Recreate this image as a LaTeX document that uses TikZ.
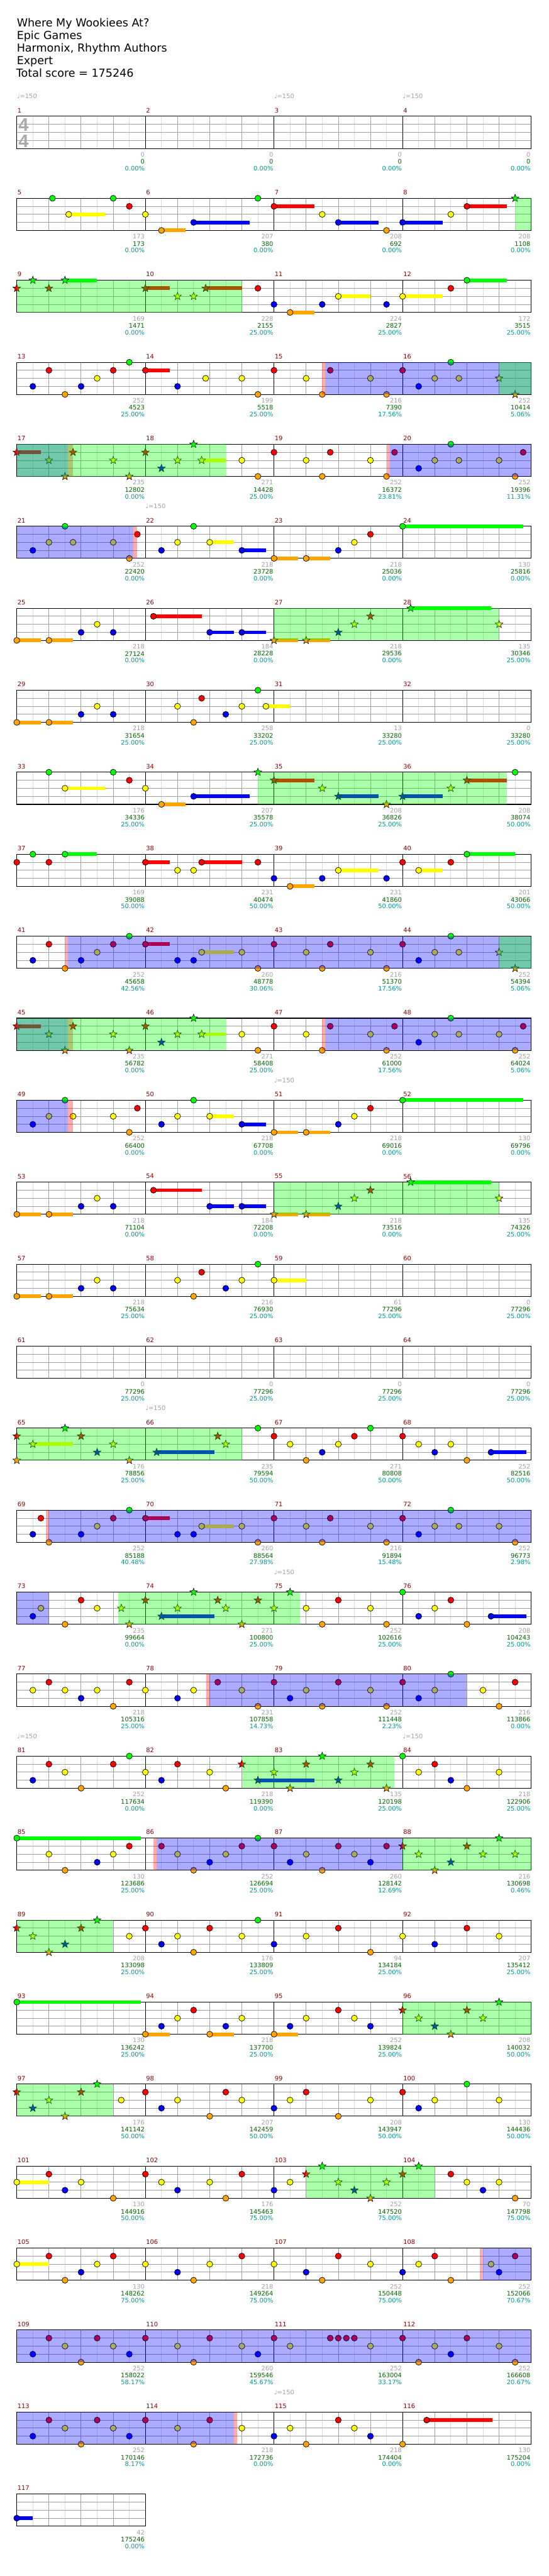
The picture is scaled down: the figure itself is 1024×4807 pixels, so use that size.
\documentclass[tikz,border=0pt]{standalone}
\usepackage{fontspec}
\setmainfont{DejaVu Sans}
\newfontfamily\sigfont{Liberation Sans}
\usetikzlibrary{shapes.geometric}

\definecolor{lane0}{RGB}{0,255,0}
\definecolor{lane1}{RGB}{255,0,0}
\definecolor{lane2}{RGB}{255,255,0}
\definecolor{lane3}{RGB}{0,0,255}
\definecolor{lane4}{RGB}{255,165,0}
\definecolor{gridmid}{RGB}{160,160,160}
\definecolor{gridlight}{RGB}{220,220,220}
\definecolor{barred}{RGB}{139,0,0}
\definecolor{ptsgray}{RGB}{160,160,160}
\definecolor{ptsgreen}{RGB}{0,100,0}
\definecolor{ptsteal}{RGB}{0,150,150}
\definecolor{siggray}{RGB}{170,170,170}

\newcommand\smallnum{\fontsize{5.8}{6}\selectfont}

% one staff row: #1 row index, #2 number of measures
\newcommand\drawstaff[2]{%
  \begin{scope}[row=#1]
    \pgfmathtruncatemacro\xend{8*#2}
    \foreach \pos in {1,3,...,\xend} \draw[eighth] (\pos,0) -- (\pos,4);
    \foreach \pos in {2,4,...,\xend} \draw[beat] (\pos,0) -- (\pos,4);
    \foreach \lane in {1,2,3} \draw[beat] (0,\lane) -- (\xend,\lane);
    \ifnum#2>1 \foreach \pos in {8,16,24} \draw[bar] (\pos,0) -- (\pos,4); \fi
    \draw[bar] (0,0) rectangle (\xend,4);
    \foreach \k in {1,...,#2} {
      \pgfmathtruncatemacro\mnum{4*#1+\k}
      \node[barno] (bar\mnum) at ({8*(\k-1)},-0.73) {\mnum};
    }
  \end{scope}}

% gain / total / percentage under each bar line
\newcommand\scores[2]{%
  \begin{scope}[row=#1]
    \foreach \gain/\total/\pct [count=\k] in {#2} {
      \pgfmathtruncatemacro\mnum{4*#1+\k}
      \node[ptsgain] (gain\mnum) at (8*\k,4.76) {\gain};
      \node[ptstotal] (total\mnum) at (8*\k,5.65) {\total};
      \node[ptspct] (pct\mnum) at (8*\k,6.5) {\pct\%};
    }
  \end{scope}}

\newcommand\gems[1]{\foreach \pos/\lane [count=\i] in {#1}
  \node[gem, fill=lane\lane] (\rowtag g\i) at (\pos,\lane) {};}
\newcommand\stars[1]{\foreach \pos/\lane [count=\i] in {#1}
  \node[odstar, fill=lane\lane] (\rowtag s\i) at (\pos,\lane) {};}
\newcommand\tails[1]{\foreach \from/\to/\lane in {#1}
  \fill[lane\lane] (\from,\lane-0.23) rectangle (\to,\lane+0.23);}
\newcommand\odrive[2]{\fill[odfill] (#1,0) rectangle (#2,4);}
\newcommand\solo[2]{\fill[solofill] (#1,0) rectangle (#2,4);}
\newcommand\solomark[2]{\fill[markfill] (#1,0) rectangle (#2,4);}
\newcommand\tempo[2]{\node[tempomark] (bpm#1) at (#2,-2.47) {♩=150};}

\begin{document}
\begin{tikzpicture}[x=0.5pt, y=-0.5pt,
  row/.style={shift={(31.3,{217+153*#1})}, xscale=30, yscale=15},
  eighth/.style={draw=gridlight, line width=0.5pt},
  beat/.style={draw=gridmid, line width=0.5pt},
  bar/.style={draw=black, line width=0.6pt},
  gem/.style={circle, draw=black, line width=0.4pt, inner sep=0pt, minimum size=5.6pt},
  odstar/.style={star, star points=5, star point ratio=2.4, draw=black, line width=0.35pt,
                 inner sep=0pt, minimum size=7.5pt},
  odfill/.style={fill=lane0, fill opacity=0.33},
  solofill/.style={fill=lane3, fill opacity=0.33},
  markfill/.style={fill=lane1, fill opacity=0.33},
  barno/.style={anchor=west, text=barred, font=\smallnum, inner sep=0.5pt},
  ptsgain/.style={anchor=east, text=ptsgray, font=\smallnum, inner sep=0.5pt},
  ptstotal/.style={anchor=east, text=ptsgreen, font=\smallnum, inner sep=0.5pt},
  ptspct/.style={anchor=east, text=ptsteal, font=\smallnum, inner sep=0.5pt},
  tempomark/.style={anchor=west, text=ptsgray, font=\smallnum, inner sep=0pt},
  titletext/.style={anchor=base west, inner sep=0pt, font=\fontsize{10.3}{12}\selectfont}
]
\useasboundingbox (0,0) rectangle (1024,4807);

% header
\node[titletext] (song)   at (31,50)    {Where My Wookiees At?};
\node[titletext] (artist) at (31,73.3)  {Epic Games};
\node[titletext] (author) at (31,96.7)  {Harmonix, Rhythm Authors};
\node[titletext] (level)  at (31,120)   {Expert};
\node[titletext] (total)  at (30,143.3) {Total score = 175246};

% staves
\foreach \r in {0,...,28} {\drawstaff{\r}{4}}
\drawstaff{29}{1}

% measures 1-4
\begin{scope}[row=0]
  \node[text=siggray, font=\sigfont\bfseries\fontsize{17}{17}\selectfont, inner sep=0pt] (sigtop) at (0.42,1.07) {4};
  \node[text=siggray, font=\sigfont\bfseries\fontsize{17}{17}\selectfont, inner sep=0pt] (sigbot) at (0.42,3.07) {4};
  \tempo{a}{0} \tempo{b}{16} \tempo{c}{24}
\end{scope}
\scores{0}{0/0/0.00, 0/0/0.00, 0/0/0.00, 0/0/0.00}

% measures 5-8
\begin{scope}[row=1]\def\rowtag{r1}
  \tails{3.23/5.5/2, 9/10.5/4, 11/14.5/3, 16/18.5/1, 20/22.5/3, 24/26.5/3, 28/30.5/1}
  \gems{2.22/0, 6/0, 7/1, 3.23/2, 8/2, 9/4, 11/3, 15/0, 16/1, 19/2, 20/3, 23/4, 24/3, 27/2, 28/1}
  \stars{31/0}
  \odrive{31}{32}
\end{scope}
\scores{1}{173/173/0.00, 207/380/0.00, 208/692/0.00, 208/1108/0.00}

% measures 9-12
\begin{scope}[row=2]\def\rowtag{r2}
  \tails{3/5/0, 8/9.5/1, 11.75/14/1, 17/18.5/4, 20/22/2, 24/26.5/2, 28/30.5/0}
  \stars{0/1, 1/0, 2/1, 3/0, 8/1, 10/2, 11/2, 11.75/1}
  \gems{15/1, 16/3, 17/4, 19/3, 20/2, 23/3, 24/2, 27/1, 28/0}
  \odrive{0}{14}
\end{scope}
\scores{2}{169/1471/0.00, 228/2155/25.00, 224/2827/25.00, 172/3515/25.00}

% measures 13-16
\begin{scope}[row=3]\def\rowtag{r3}
  \tails{8/9.5/1}
  \gems{1/3, 2/1, 3/4, 4/3, 5/2, 6/1, 7/0, 8/1, 10/3, 11.75/2, 14/2, 15/4, 16/1, 18/2, 19/4,
        19.5/1, 22/2, 23/4, 24/1, 25/3, 26/2, 27/0, 27.5/2}
  \stars{30/2, 31/4}
  \solomark{19}{19.2} \solo{19.2}{32} \odrive{30}{32}
\end{scope}
\scores{3}{252/4523/25.00, 199/5518/25.00, 216/7390/17.56, 252/10414/5.06}

% measures 17-20
\begin{scope}[row=4]\def\rowtag{r4}
  \tails{0/1.5/1, 11.5/13/2}
  \stars{0/1, 2/2, 3/4, 3.5/1, 6/2, 7/4, 8/1, 9/3, 10/2, 11/0, 11.5/2}
  \gems{14/2, 15/4, 16/1, 18/2, 19/4, 19.5/1, 22/2, 23/4, 23.5/1, 25/3, 26/2, 27/0, 27.5/2,
        30/2, 31/4, 31.5/1}
  \solo{0}{3.2} \solomark{3.2}{3.5} \odrive{0}{13}
  \solomark{23}{23.2} \solo{23.2}{32}
\end{scope}
\scores{4}{235/12802/0.00, 271/14428/25.00, 252/16372/23.81, 252/19396/11.31}

% measures 21-24
\begin{scope}[row=5]\def\rowtag{r5}
  \tempo{d}{8}
  \tails{12/13.5/2, 14/15.5/3, 16/17.5/4, 18/19.5/4, 24/31.5/0}
  \gems{1/3, 2/2, 3/0, 3.5/2, 6/2, 7/4, 7.5/1, 9/3, 10/2, 11/0, 12/2, 14/3, 16/4, 18/4,
        20/3, 21/2, 22/1, 24/0}
  \solo{0}{7.25} \solomark{7.25}{7.5}
\end{scope}
\scores{5}{252/22420/0.00, 218/23728/0.00, 218/25036/0.00, 130/25816/0.00}

% measures 25-28
\begin{scope}[row=6]\def\rowtag{r6}
  \tails{0/1.5/4, 2/3.5/4, 8.5/11.5/1, 12/13.5/3, 14/15.5/3, 16/17.5/4, 18/19.5/4, 24.5/29.5/0}
  \gems{0/4, 2/4, 4/3, 5/2, 6/3, 8.5/1, 12/3, 14/3}
  \stars{16/4, 18/4, 20/3, 21/2, 22/1, 24.5/0, 30/2}
  \odrive{16}{30}
\end{scope}
\scores{6}{218/27124/0.00, 184/28228/0.00, 218/29536/0.00, 135/30346/25.00}

% measures 29-32
\begin{scope}[row=7]\def\rowtag{r7}
  \tails{0/1.5/4, 2/3.5/4, 15.5/17/2}
  \gems{0/4, 2/4, 4/3, 5/2, 6/3, 10/2, 11/4, 11.5/1, 13/3, 14/2, 15/0, 15.5/2}
\end{scope}
\scores{7}{218/31654/25.00, 258/33202/25.00, 13/33280/25.00, 0/33280/25.00}

% measures 33-36
\begin{scope}[row=8]\def\rowtag{r8}
  \tails{3/5.5/2, 9/10.5/4, 11/14.5/3, 16/18.5/1, 20/22.5/3, 24/26.5/3, 28/30.5/1}
  \gems{2/0, 3/2, 6/0, 7/1, 8/2, 9/4, 11/3, 31/0}
  \stars{15/0, 16/1, 19/2, 20/3, 23/4, 24/3, 27/2, 28/1}
  \odrive{15}{30.5}
\end{scope}
\scores{8}{176/34336/25.00, 207/35578/25.00, 208/36826/25.00, 208/38074/50.00}

% measures 37-40
\begin{scope}[row=9]\def\rowtag{r9}
  \tails{3/5/0, 8/9.5/1, 11.5/14/1, 17/18.5/4, 20/22.5/2, 25/26.5/2, 28/31/0}
  \gems{0/1, 1/0, 2/1, 3/0, 8/1, 10/2, 11/2, 11.5/1, 15/1, 16/3, 17/4, 19/3, 20/2, 23/3,
        24/1, 25/2, 27/1, 28/0}
\end{scope}
\scores{9}{169/39088/50.00, 231/40474/50.00, 231/41860/50.00, 201/43066/50.00}

% measures 41-44
\begin{scope}[row=10]\def\rowtag{r10}
  \tails{8/9.5/1, 11.5/13.5/2}
  \gems{1/3, 2/1, 3/4, 4/3, 5/2, 6/1, 7/0, 8/1, 10/3, 11/3, 11.5/2, 14/2, 15/4, 16/1, 18/2,
        19/4, 19.5/1, 22/2, 23/4, 24/1, 25/3, 26/2, 27/0, 27.5/2}
  \stars{30/2, 31/4}
  \solomark{3}{3.2} \solo{3.2}{32} \odrive{30}{32}
\end{scope}
\scores{10}{252/45658/42.56, 260/48778/30.06, 216/51370/17.56, 252/54394/5.06}

% measures 45-48
\begin{scope}[row=11]\def\rowtag{r11}
  \tails{0/1.5/1, 11.5/13/2}
  \stars{0/1, 2/2, 3/4, 3.5/1, 6/2, 7/4, 8/1, 9/3, 10/2, 11/0, 11.5/2}
  \gems{14/2, 15/4, 16/1, 18/2, 19/4, 19.5/1, 22/2, 23/4, 23.5/1, 25/3, 26/2, 27/0, 27.5/2,
        30/2, 31/4, 31.5/1}
  \solo{0}{3.2} \solomark{3.2}{3.5} \odrive{0}{13}
  \solomark{19}{19.2} \solo{19.2}{32}
\end{scope}
\scores{11}{235/56782/0.00, 271/58408/25.00, 252/61000/17.56, 252/64024/5.06}

% measures 49-52
\begin{scope}[row=12]\def\rowtag{r12}
  \tempo{e}{16}
  \tails{12/13.5/2, 14/15.5/3, 16/17.5/4, 18/19.5/4, 24/31.5/0}
  \gems{1/3, 2/2, 3/0, 3.5/2, 6/2, 7/4, 7.5/1, 9/3, 10/2, 11/0, 12/2, 14/3, 16/4, 18/4,
        20/3, 21/2, 22/1, 24/0}
  \solo{0}{3.2} \solomark{3.2}{3.5}
\end{scope}
\scores{12}{252/66400/0.00, 218/67708/0.00, 218/69016/0.00, 130/69796/0.00}

% measures 53-56
\begin{scope}[row=13]\def\rowtag{r13}
  \tails{0/1.5/4, 2/3.5/4, 8.5/11.5/1, 12/13.5/3, 14/15.5/3, 16/17.5/4, 18/19.5/4, 24.5/29.5/0}
  \gems{0/4, 2/4, 4/3, 5/2, 6/3, 8.5/1, 12/3, 14/3}
  \stars{16/4, 18/4, 20/3, 21/2, 22/1, 24.5/0, 30/2}
  \odrive{16}{30}
\end{scope}
\scores{13}{218/71104/0.00, 184/72208/0.00, 218/73516/0.00, 135/74326/25.00}

% measures 57-60
\begin{scope}[row=14]\def\rowtag{r14}
  \tails{0/1.5/4, 2/3.5/4, 16/18/2}
  \gems{0/4, 2/4, 4/3, 5/2, 6/3, 10/2, 11/4, 11.5/1, 13/3, 14/2, 15/0, 16/2}
\end{scope}
\scores{14}{218/75634/25.00, 216/76930/25.00, 61/77296/25.00, 0/77296/25.00}

% measures 61-64
\scores{15}{0/77296/25.00, 0/77296/25.00, 0/77296/25.00, 0/77296/25.00}

% measures 65-68
\begin{scope}[row=16]\def\rowtag{r16}
  \tempo{f}{8}
  \tails{1/3.5/2, 8.7/12.3/3, 29.5/31.7/3}
  \stars{0/1, 0/4, 1/2, 3/0, 4/1, 5/3, 6/2, 7/4, 8.7/3, 12.5/1, 13/2}
  \gems{15/0, 16/1, 17/2, 18/4, 19/3, 20/2, 21/1, 22/0, 24/1, 25/2, 26/3, 27/2, 28/4, 29.5/3}
  \odrive{0}{14}
\end{scope}
\scores{16}{176/78856/25.00, 235/79594/50.00, 271/80808/50.00, 252/82516/50.00}

% measures 69-72
\begin{scope}[row=17]\def\rowtag{r17}
  \tails{8/9.5/1, 11.5/13.5/2}
  \gems{1/3, 1.5/1, 2/4, 4/3, 5/2, 6/1, 7/0, 8/1, 10/3, 11/3, 11.5/2, 14/2, 15/4, 16/1, 18/2,
        19/4, 19.5/1, 22/2, 23/4, 24/1, 25/3, 26/2, 27/0, 27.5/2, 30/2, 31/4}
  \solomark{1.8}{2} \solo{2}{32}
\end{scope}
\scores{17}{252/85188/40.48, 260/88564/27.98, 216/91894/15.48, 252/96773/2.98}

% measures 73-76
\begin{scope}[row=18]\def\rowtag{r18}
  \tempo{g}{16}
  \tails{9/12.3/3, 29.5/31.7/3}
  \gems{1/3, 1.5/2, 3/4, 4/1, 5/2, 18/2, 19/4, 20/1, 22/2, 23/4, 24/0, 25/3, 26/2, 27/1,
        28/4, 29.5/3}
  \stars{6.5/2, 7/4, 8/1, 9/3, 10/2, 11/0, 12.5/1, 13/2, 14/4, 15/1, 16/2, 17/0}
  \solo{0}{2} \odrive{6.3}{17.6}
\end{scope}
\scores{18}{235/99664/0.00, 271/100800/25.00, 252/102616/25.00, 208/104243/25.00}

% measures 77-80
\begin{scope}[row=19]\def\rowtag{r19}
  \gems{1/2, 2/1, 3/2, 4/3, 5/2, 6/4, 7/1, 8/2, 10/3, 11/2, 12.5/1, 14/2, 15/4, 16/1, 17/3,
        18/2, 19/4, 20/1, 22/2, 23/4, 24/1, 25/3, 26/2, 27/0, 29/2, 30/4, 31/1}
  \solomark{11.8}{12} \solo{12}{28}
\end{scope}
\scores{19}{218/105316/25.00, 231/107858/14.73, 252/111448/2.23, 216/113866/0.00}

% measures 81-84
\begin{scope}[row=20]\def\rowtag{r20}
  \tempo{h}{0} \tempo{i}{24}
  \tails{15/18.5/3}
  \gems{1/3, 2/1, 3/2, 4/4, 6/1, 7/0, 8/2, 9/3, 10/1, 12/2, 13/4, 24/0, 25/2, 26/1, 27/3,
        28/4, 30/2}
  \stars{14/1, 15/3, 16/2, 17/4, 18/1, 19/0, 20/3, 21/2, 22/1, 23/4}
  \odrive{14}{23.5}
\end{scope}
\scores{20}{252/117634/0.00, 218/119390/0.00, 135/120198/25.00, 218/122906/25.00}

% measures 85-88
\begin{scope}[row=21]\def\rowtag{r21}
  \tails{0/7.7/0}
  \gems{0/0, 2/2, 3/4, 5/3, 6/2, 7/1, 9/1, 10/2, 11/4, 12/3, 13/2, 14/1, 15/0, 16/1, 17/3,
        18/2, 19/4, 20/1, 21/2, 22/3, 23/1}
  \stars{24/1, 25/2, 26/4, 27/3, 28/1, 29/2, 30/0, 31/2}
  \solomark{8.5}{8.7} \solo{8.7}{24} \odrive{24}{32}
\end{scope}
\scores{21}{130/123686/25.00, 252/126694/25.00, 260/128142/12.69, 216/130698/0.46}

% measures 89-92
\begin{scope}[row=22]\def\rowtag{r22}
  \stars{0/1, 1/2, 2/4, 3/3, 4/1, 5/0}
  \gems{7/2, 8/1, 9/3, 10/2, 11/4, 12/1, 14/2, 15/0, 16/3, 18/2, 20/1, 22/4, 24/2, 26/3,
        28/1, 30/2}
  \odrive{0}{6}
\end{scope}
\scores{22}{208/133098/25.00, 176/133809/25.00, 94/134184/25.00, 207/135412/25.00}

% measures 93-96
\begin{scope}[row=23]\def\rowtag{r23}
  \tails{0/7.7/0, 8/9.5/4, 12/13.5/4, 16/17.5/4}
  \gems{0/0, 8/4, 9/3, 10/2, 11/1, 12/4, 13/3, 14/2, 16/4, 17/3, 18/2, 20/1, 21/2, 22/3}
  \stars{24/1, 25/2, 26/3, 27/4, 28/1, 29/2, 30/0}
  \odrive{24}{32}
\end{scope}
\scores{23}{130/136242/25.00, 218/137700/25.00, 252/139824/25.00, 208/140032/50.00}

% measures 97-100
\begin{scope}[row=24]\def\rowtag{r24}
  \stars{0/1, 1/3, 2/2, 3/4, 4/1, 5/0}
  \gems{6.5/2, 8/1, 9/3, 10/2, 12/4, 13/1, 14/2, 16/3, 17/2, 18/1, 20/4, 22/2, 24/1, 25/3,
        26/2, 28/0, 30/2}
  \odrive{0}{6}
\end{scope}
\scores{24}{176/141142/50.00, 207/142459/50.00, 208/143947/50.00, 130/144436/50.00}

% measures 101-104
\begin{scope}[row=25]\def\rowtag{r25}
  \tails{0/2/2}
  \gems{0/2, 2/1, 3/3, 4/2, 6/4, 8/1, 9/2, 10/3, 12/2, 13/4, 14/1, 16/3, 17/2, 27/1, 28/2,
        29/3, 30/2, 31/4}
  \stars{18/1, 19/0, 20/2, 21/3, 22/4, 23/2, 24/1, 25/0}
  \odrive{18}{26}
\end{scope}
\scores{25}{130/144916/50.00, 176/145463/75.00, 252/147520/75.00, 70/147798/75.00}

% measures 105-108
\begin{scope}[row=26]\def\rowtag{r26}
  \tails{0/2/2}
  \gems{0/2, 2/1, 3/4, 4/3, 5/2, 6/1, 8/2, 10/3, 11/4, 12/2, 14/1, 16/2, 18/3, 19/4, 20/1,
        22/2, 24/3, 25/2, 26/1, 27/4, 29.5/2, 30/3, 31/1}
  \solomark{28.8}{29} \solo{29}{32}
\end{scope}
\scores{26}{130/148262/75.00, 218/149264/75.00, 252/150448/75.00, 252/152066/70.67}

% measures 109-112
\begin{scope}[row=27]\def\rowtag{r27}
  \gems{1/3, 2/1, 3/2, 4/4, 5/1, 6/2, 7/3, 8/1, 10/2, 11/4, 12/1, 14/2, 15/3, 16/1, 17/2,
        19.5/1, 20/1, 20.5/1, 21/1, 22/2, 24/1, 25/4, 26/2, 27/3, 28/1, 30/2, 31/4}
  \solo{0}{32}
\end{scope}
\scores{27}{252/158022/58.17, 260/159546/45.67, 252/163004/33.17, 252/166608/20.67}

% measures 113-116
\begin{scope}[row=28]\def\rowtag{r28}
  \tempo{j}{16}
  \tails{25.5/29.6/1}
  \gems{1/3, 2/1, 3/2, 4/4, 5/1, 6/2, 7/3, 8/1, 10/2, 11/4, 12/1, 14/2, 16/3, 17/2, 18/4,
        20/1, 21/2, 22/3, 24/4, 25.5/1}
  \solo{0}{13.5} \solomark{13.5}{13.7}
\end{scope}
\scores{28}{252/170146/8.17, 218/172736/0.00, 218/174404/0.00, 130/175204/0.00}

% measure 117
\begin{scope}[row=29]\def\rowtag{r29}
  \tails{0/1/3}
  \gems{0/3}
\end{scope}
\scores{29}{42/175246/0.00}

\end{tikzpicture}
\end{document}
